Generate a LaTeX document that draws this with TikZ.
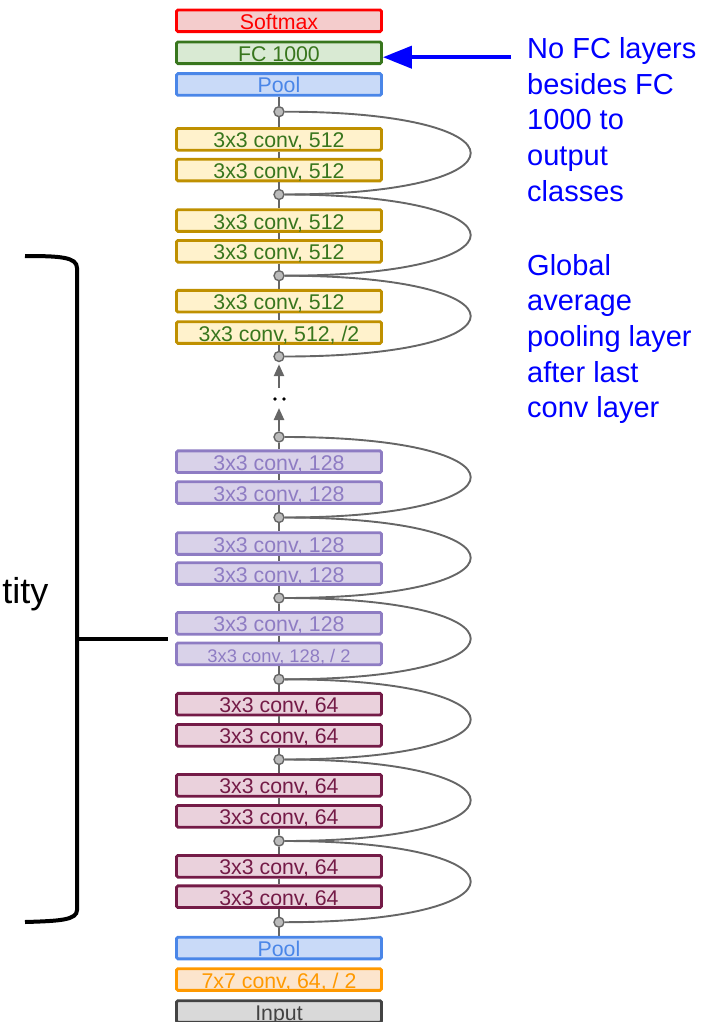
\documentclass[tikz,border=0pt]{standalone}
\usepackage{fontspec}
\setmainfont{Liberation Sans}
\usetikzlibrary{arrows.meta}
\definecolor{smR}{HTML}{FF0000}\definecolor{smF}{HTML}{F4CCCC}
\definecolor{fcG}{HTML}{38761D}\definecolor{fcF}{HTML}{D9EAD3}
\definecolor{plB}{HTML}{4A86E8}\definecolor{plF}{HTML}{C9DAF8}
\definecolor{yeB}{HTML}{BF9000}\definecolor{yeF}{HTML}{FFF2CC}
\definecolor{puB}{HTML}{8E7CC3}\definecolor{puF}{HTML}{D9D2E9}
\definecolor{maB}{HTML}{741B47}\definecolor{maF}{HTML}{EAD1DC}
\definecolor{orB}{HTML}{FF9900}\definecolor{orF}{HTML}{FCE5CD}
\definecolor{inB}{HTML}{434343}\definecolor{inF}{HTML}{D9D9D9}
\definecolor{lnG}{HTML}{666666}\definecolor{ciF}{HTML}{BBBBBB}
\definecolor{noteB}{HTML}{0000FF}
\begin{document}
\begin{tikzpicture}[x=1pt,y=-1pt,
  box/.style={draw, line width=2.8pt, rounded corners=1.5pt, minimum width=205pt,
    minimum height=21.7pt, inner sep=0pt, text height=17pt, text depth=0pt,
    font=\fontsize{21.3}{24}\selectfont},
  smallbox/.style={box, font=\fontsize{18.3}{21}\selectfont},
  smx/.style={draw=smR, fill=smF, text=smR},
  fcx/.style={draw=fcG, fill=fcF, text=fcG},
  plx/.style={draw=plB, fill=plF, text=plB},
  yex/.style={draw=yeB, fill=yeF, text=fcG},
  pux/.style={draw=puB, fill=puF, text=puB},
  max/.style={draw=maB, fill=maF, text=maB},
  orx/.style={draw=orB, fill=orF, text=orB},
  inx/.style={draw=inB, fill=inF, text=inB},
  junc/.style={circle, draw=lnG, fill=ciF, line width=1.4pt, minimum size=10pt, inner sep=0pt},
  vline/.style={draw=lnG, line width=2.4pt},
  skip/.style={draw=lnG, line width=1.9pt},
  garrow/.style={draw=lnG, line width=2.4pt, -{Triangle[length=12pt,width=10pt]}},
  bluearr/.style={draw=noteB, fill=noteB, line width=4pt, -{Triangle[length=29pt,width=22pt]}},
  note/.style={anchor=north west, align=left, inner sep=0pt, text=noteB,
    font=\fontsize{29}{35.6}\selectfont},
  brace/.style={draw=black, line width=4pt}
]
\useasboundingbox (0,0) rectangle (720,1022);

% top part
\node[box, smx] (softmax) at (279,20.8) {Softmax};
\node[box, fcx] (fc) at (279,52.8) {FC 1000};
\node[box, plx] (pooltop) at (279,84.5) {Pool};

\node[junc] (c1) at (279,111.7) {};
\node[box, yex] (y1) at (279,139.3) {3x3 conv, 512};
\node[box, yex] (y2) at (279,170) {3x3 conv, 512};
\node[junc] (c2) at (279,194.5) {};
\node[box, yex] (y3) at (279,220.5) {3x3 conv, 512};
\node[box, yex] (y4) at (279,251.3) {3x3 conv, 512};
\node[junc] (c3) at (279,275.7) {};
\node[box, yex] (y5) at (279,301.2) {3x3 conv, 512};
\node[box, yex] (y6) at (279,332.5) {3x3 conv, 512, /2};
\node[junc] (c4) at (279,356.5) {};

\node[junc] (c5) at (279,437) {};
\node[box, pux] (p1) at (279,461.7) {3x3 conv, 128};
\node[box, pux] (p2) at (279,492.5) {3x3 conv, 128};
\node[junc] (c6) at (279,517.5) {};
\node[box, pux] (p3) at (279,543.5) {3x3 conv, 128};
\node[box, pux] (p4) at (279,573.5) {3x3 conv, 128};
\node[junc] (c7) at (279,598) {};
\node[box, pux] (p5) at (279,623.3) {3x3 conv, 128};
\node[smallbox, pux] (p6) at (279,653.8) {3x3 conv, 128, / 2};
\node[junc] (c8) at (279,679.3) {};
\node[box, max] (m1) at (279,704.2) {3x3 conv, 64};
\node[box, max] (m2) at (279,735.3) {3x3 conv, 64};
\node[junc] (c9) at (279,759.5) {};
\node[box, max] (m3) at (279,785.3) {3x3 conv, 64};
\node[box, max] (m4) at (279,816.3) {3x3 conv, 64};
\node[junc] (c10) at (279,841) {};
\node[box, max] (m5) at (279,866.3) {3x3 conv, 64};
\node[box, max] (m6) at (279,896.7) {3x3 conv, 64};
\node[junc] (c11) at (279,922.2) {};
\node[box, plx] (poolbot) at (279,948) {Pool};
\node[box, orx] (conv7) at (279,979.5) {7x7 conv, 64, / 2};
\node[box, inx] (input) at (279,1011.5) {Input};

% vertical connectors
\foreach \p/\q in {pooltop/c1, c1/y1, y1/y2, y2/c2, c2/y3, y3/y4, y4/c3, c3/y5, y5/y6, y6/c4,
  c5/p1, p1/p2, p2/c6, c6/p3, p3/p4, p4/c7, c7/p5, p5/p6, p6/c8, c8/m1, m1/m2, m2/c9,
  c9/m3, m3/m4, m4/c10, c10/m5, m5/m6, m6/c11, c11/poolbot}
  \draw[vline] (\p) -- (\q);

% skip connections
\foreach \p/\q in {c1/c2, c2/c3, c3/c4, c5/c6, c6/c7, c7/c8, c8/c9, c9/c10, c10/c11}
  \draw[skip] (\p.east) .. controls +(248,0) and +(248,0) .. (\q.east);

% dotted gap with arrows
\coordinate (dlow) at (279,408);
\coordinate (dhigh) at (279,388);
\draw[garrow] (c5) -- (dlow);
\draw[garrow, shorten >=2pt] (dhigh) -- (c4);
\fill[black] (275,399) circle (1.8pt);
\fill[black] (284,399) circle (1.8pt);

% blue note and arrow
\coordinate (arrstart) at (511,57.2);
\draw[bluearr] (arrstart) -- (arrstart -| fc.east);
\node[note] (note1) at (527,37.4) {No FC layers\\besides FC\\1000 to\\output\\classes};
\node[note] (note2) at (527,254) {Global\\average\\pooling layer\\after last\\conv layer};

% left bracket
\coordinate (bt) at (25,256);
\coordinate (bb) at (25,922);
\coordinate (bm) at (77,639);
\coordinate (bmend) at (168,639);
\draw[brace] (bt) .. controls (60,256) and (77,257) .. (77,268) -- (77,910)
  .. controls (77,920) and (60,921) .. (bb);
\draw[brace] (bm) -- (bmend);
\node[anchor=base east, inner sep=0pt, font=\fontsize{36}{40}\selectfont] (tity) at (48.5,603) {tity};
\end{tikzpicture}
\end{document}
